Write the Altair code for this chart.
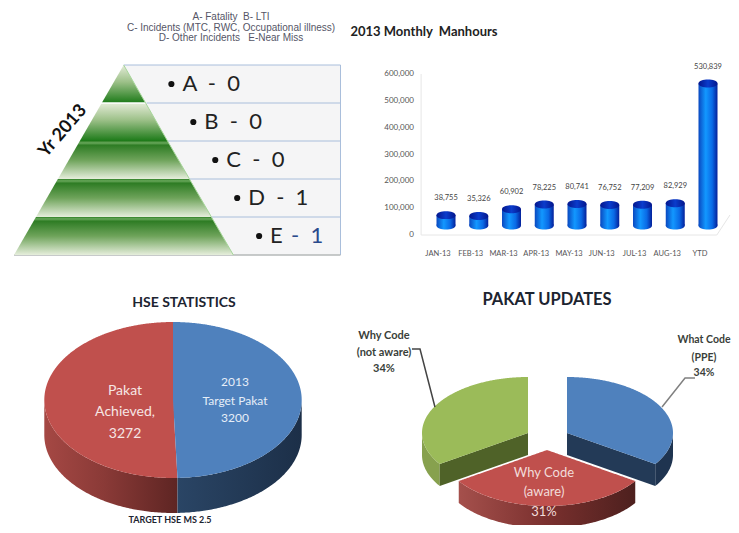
import altair as alt
import numpy as np
import pandas as pd

# ---------- data ----------
NB = "\u00a0"
legend_lines = [f"A- Fatality{NB}{NB}B- LTI", "C- Incidents (MTC, RWC, Occupational illness)", f"D- Other Incidents{NB}{NB}{NB}E-Near Miss"]
tier_letters = [f"A{NB}{NB}-{NB}{NB}0", f"B{NB}{NB}-{NB}{NB}0", f"C{NB}{NB}-{NB}{NB}0", f"D{NB}{NB}-{NB}{NB}1", "E"]
months = ["JAN-13", "FEB-13", "MAR-13", "APR-13", "MAY-13", "JUN-13", "JUL-13", "AUG-13", "YTD"]
manhours = [38755, 35326, 60902, 78225, 80741, 76752, 77209, 82929, 530839]
y_ticks = [0, 100000, 200000, 300000, 400000, 500000, 600000]
hse_values = [3200, 3272]
pakat_shares = [34, 31, 34]

OFF = 8  # page margin
FONT = "Lato"
layers = []


def R(a, b):
    return [a - OFF, b - OFF]


def label(txt, x, y, size, color="#333333", weight="normal", font=FONT, align="center", angle=None):
    kw = {}
    if angle is not None:
        kw["angle"] = angle
    layers.append(
        alt.Chart(pd.DataFrame({"t": [txt]}))
        .mark_text(fontSize=size, color=color, fontWeight=weight, font=font, align=align, baseline="middle", **kw)
        .encode(x=alt.value(x - OFF), y=alt.value(y - OFF), text="t:N")
    )


def grad(stops, vertical=False):
    st = [alt.GradientStop(offset=o, color=c) for o, c in stops]
    if vertical:
        return alt.LinearGradient(gradient="linear", stops=st, x1=0, x2=0, y1=0, y2=1)
    return alt.LinearGradient(gradient="linear", stops=st, x1=0, x2=1, y1=0, y2=0)


# ---------- pyramid ----------
PX = alt.Scale(domain=[-1, 1.977], range=R(14, 340.5), nice=False, zero=False)
PY = alt.Scale(domain=[0, 5], range=R(65, 255), nice=False, zero=False)
n_tiers = len(tier_letters)

for i in range(n_tiers):
    d = pd.DataFrame({"lvl": [i, i + 1], "xl": [i / 5, (i + 1) / 5], "xr": [1.977, 1.977]})
    layers.append(
        alt.Chart(d).mark_area(orient="horizontal", color="#f5f5f6").encode(
            x=alt.X("xl:Q", scale=PX, axis=None), x2="xr:Q", y=alt.Y("lvl:Q", scale=PY, axis=None)
        )
    )

rows = pd.DataFrame({"lvl": [0, 1, 2, 3, 4], "xl": [0, .2, .4, .6, .8], "xr": [1.977] * 5})
layers.append(alt.Chart(rows).mark_rule(color="#a9bedb", strokeWidth=1).encode(
    x=alt.X("xl:Q", scale=PX, axis=None), x2="xr:Q", y=alt.Y("lvl:Q", scale=PY, axis=None)))
layers.append(alt.Chart(pd.DataFrame({"x": [1.977], "a": [0], "b": [5]})).mark_rule(color="#a9bedb", strokeWidth=1).encode(
    x=alt.X("x:Q", scale=PX, axis=None), y=alt.Y("a:Q", scale=PY, axis=None), y2="b:Q"))
layers.append(alt.Chart(pd.DataFrame({"l": [5], "a": [-1], "b": [1.977]})).mark_rule(color="#b5b8b8", strokeWidth=1.5).encode(
    x=alt.X("a:Q", scale=PX, axis=None), x2="b:Q", y=alt.Y("l:Q", scale=PY, axis=None)))

light_top = [(0, "#e4ecd8"), (0.45, "#9cc088"), (1, "#1c7a18")]
dark_top = [(0, "#2f7f25"), (0.05, "#6aa85c"), (0.11, "#2e7c24"), (0.5, "#6ea35a"), (1, "#e6eedc")]
for i in range(n_tiers):
    d = pd.DataFrame({"lvl": [i, i + 1], "xl": [-i / 5, -(i + 1) / 5], "xr": [i / 5, (i + 1) / 5]})
    stops = light_top if i < 2 else dark_top
    layers.append(
        alt.Chart(d).mark_area(orient="horizontal", color=grad(stops, vertical=True)).encode(
            x=alt.X("xl:Q", scale=PX, axis=None), x2="xr:Q", y=alt.Y("lvl:Q", scale=PY, axis=None)
        )
    )
layers.append(alt.Chart(pd.DataFrame({"l": [1], "a": [-.21], "b": [.21]})).mark_rule(color="white", strokeWidth=1.5).encode(
    x=alt.X("a:Q", scale=PX, axis=None), x2="b:Q", y=alt.Y("l:Q", scale=PY, axis=None)))
layers.append(alt.Chart(pd.DataFrame({"x": [0], "y": [0], "x2": [1], "y2": [5]})).mark_rule(color="#a6d69a", strokeWidth=1).encode(
    x=alt.X("x:Q", scale=PX, axis=None), x2="x2:Q", y=alt.Y("y:Q", scale=PY, axis=None), y2="y2:Q"))

marks = pd.DataFrame({
    "t": tier_letters,
    "lvl": [i + .5 for i in range(n_tiers)],
    "x": [(i + .5) / 5 + 0.335 for i in range(n_tiers)],
})
layers.append(alt.Chart(marks).mark_point(filled=True, color="#111111", size=38, opacity=1, shape="circle").encode(
    x=alt.X("x:Q", scale=PX, axis=None), y=alt.Y("lvl:Q", scale=PY, axis=None)))
layers.append(alt.Chart(marks).mark_text(align="left", baseline="middle", dx=11, fontSize=22, font=FONT, color="#222222").encode(
    x=alt.X("x:Q", scale=PX, axis=None), y=alt.Y("lvl:Q", scale=PY, axis=None), text="t:N"))
layers.append(alt.Chart(marks.tail(1).assign(t=f"-{NB}{NB}1")).mark_text(align="left", baseline="middle", dx=32, fontSize=22, font=FONT, color="#2a4a8c").encode(
    x=alt.X("x:Q", scale=PX, axis=None), y=alt.Y("lvl:Q", scale=PY, axis=None), text="t:N"))

label("Yr 2013", 63, 131, 18, color="#111111", weight="bold", angle=311)
for t, y in zip(legend_lines, [17, 28, 38]):
    label(t, 231, y, 10, color="#555566", font="Liberation Sans")

# ---------- bar chart ----------
label(f"2013 Monthly{NB}{NB}Manhours", 424, 32, 13, color="#222222", weight="bold")
BX = alt.Scale(domain=[0, 8], range=R(446, 708), nice=False, zero=False)
BY = alt.Scale(domain=[0, 600000], range=R(225.5, 65), nice=False, zero=False)
AY = alt.Scale(domain=[0, 600000], range=R(235, 74), nice=False, zero=False)

floor = pd.DataFrame({"i": [-0.76, -0.76, 8.27, 8.67], "v": [600000, 0, 0, 74500], "o": [0, 1, 2, 3]})
layers.append(alt.Chart(floor).mark_line(color="#e6e6e6", strokeWidth=1).encode(
    x=alt.X("i:Q", scale=BX, axis=None), y=alt.Y("v:Q", scale=AY, axis=None), order="o:O"))

tick_df = pd.DataFrame({"v": y_ticks, "t": [f"{v:,}" for v in y_ticks]})
layers.append(alt.Chart(tick_df).mark_text(align="right", baseline="middle", fontSize=8, font=FONT, color="#555555").encode(
    x=alt.value(414 - OFF), y=alt.Y("v:Q", scale=AY, axis=None), text="t:N"))

bars = pd.DataFrame({"i": range(len(months)), "m": months, "v": manhours, "b": 0,
                     "t": [f"{v:,}" for v in manhours]})
bars["x0"] = bars["i"] - 0.29
bars["x1"] = bars["i"] + 0.29
body = [(0, "#0a48c0"), (0.38, "#1298ff"), (0.72, "#0a6ae6"), (1, "#04209a")]
ELLIPSE = "M-1,0C-1,-0.56,1,-0.56,1,0C1,0.56,-1,0.56,-1,0Z"
layers.append(alt.Chart(bars).mark_point(filled=True, shape=ELLIPSE, size=361, opacity=1, fill=grad(body), strokeWidth=0).encode(
    x=alt.X("i:Q", scale=BX, axis=None), y=alt.Y("b:Q", scale=BY, axis=None)))
layers.append(alt.Chart(bars).mark_bar(color=grad(body)).encode(
    x=alt.X("x0:Q", scale=BX, axis=None), x2="x1:Q", y=alt.Y("v:Q", scale=BY, axis=None), y2="b:Q"))
layers.append(alt.Chart(bars).mark_point(filled=True, shape=ELLIPSE, size=361, opacity=1, fill=grad([(0, "#04168c"), (0.5, "#0a3ccc"), (1, "#04168c")]), strokeWidth=0).encode(
    x=alt.X("i:Q", scale=BX, axis=None), y=alt.Y("v:Q", scale=BY, axis=None)))
layers.append(alt.Chart(bars).mark_text(baseline="middle", dy=-17, fontSize=7.5, font=FONT, color="#444444").encode(
    x=alt.X("i:Q", scale=BX, axis=None), y=alt.Y("v:Q", scale=BY, axis=None), text="t:N"))
layers.append(alt.Chart(bars).mark_text(baseline="middle", dx=-8, fontSize=7.5, font=FONT, color="#555555").encode(
    x=alt.X("i:Q", scale=BX, axis=None), y=alt.value(254 - OFF), text="m:N"))


# ---------- 3-D pies ----------
def polar(a):
    r = np.radians(a)
    return np.sin(r), np.cos(r)


def wedge(a0, a1, cx=0.0, cy=0.0, n=240):
    ang = np.linspace(a0, a1, n)
    sx, cy_arc = polar(ang)
    px = np.r_[cx, cx + sx]
    py = np.r_[cy, cy + cy_arc]
    xs = np.unique(np.round(px, 6))
    top, bot = [], []
    qx, qy = np.r_[px, px[0]], np.r_[py, py[0]]
    for x in xs:
        ys = []
        for j in range(len(px)):
            x0, x1, y0, y1 = qx[j], qx[j + 1], qy[j], qy[j + 1]
            if min(x0, x1) - 1e-6 <= x <= max(x0, x1) + 1e-6:
                if abs(x1 - x0) < 1e-9:
                    ys += [y0, y1]
                else:
                    ys.append(y0 + (x - x0) / (x1 - x0) * (y1 - y0))
        top.append(max(ys))
        bot.append(min(ys))
    return pd.DataFrame({"x": xs, "y": top, "y2": bot})


def rim(a0, a1, depth, cx=0.0, cy=0.0, n=120):
    ang = np.linspace(a0, a1, n)
    sx, c = polar(ang)
    d = pd.DataFrame({"x": cx + sx, "y": cy + c, "y2": cy + c - depth})
    return d.sort_values("x")


def cut(a, depth, cx=0.0, cy=0.0):
    sx, c = polar(a)
    d = pd.DataFrame({"x": [cx + sx, cx], "y": [cy + c, cy], "y2": [cy + c - depth, cy - depth]})
    return d.sort_values("x")


def face(d, fill, sx, sy):
    layers.append(alt.Chart(d).mark_area(color=fill, orient="vertical").encode(
        x=alt.X("x:Q", scale=sx, axis=None), y=alt.Y("y:Q", scale=sy, axis=None), y2="y2:Q"))


# HSE statistics
label("HSE STATISTICS", 184, 303, 14, color="#1c2430", weight="bold")
H_X = alt.Scale(domain=[-1, 1], range=R(173 - 128.7, 173 + 128.7), nice=False, zero=False)
H_Y = alt.Scale(domain=[-1, 1], range=R(400 + 78, 400 - 78), nice=False, zero=False)
h_split = 360 * hse_values[0] / sum(hse_values)
H_D = 35 / 78
face(rim(h_split, 270, H_D), grad([(0, "#a54844"), (0.45, "#8a3a37"), (1, "#5e2523")]), H_X, H_Y)
face(rim(90, h_split, H_D), grad([(0, "#2a4565"), (1, "#1c2f48")]), H_X, H_Y)
face(wedge(h_split, 360), "#c0504d", H_X, H_Y)
face(wedge(0, h_split), "#4f81bd", H_X, H_Y)

for t, y in zip(["Pakat", "Achieved,", "3272"], [391, 412, 434]):
    label(t, 125, y, 14, color="#f6e6e4")
for t, y in zip(["2013", "Target Pakat", "3200"], [382, 401, 418]):
    label(t, 235, y, 12, color="#e6eef8")
label("TARGET HSE MS 2.5", 170, 520, 9, color="#1c2430", weight="bold")

# Pakat updates
label("PAKAT UPDATES", 547, 300, 16.5, color="#1c2430", weight="bold")
U_X = alt.Scale(domain=[-1, 1], range=R(547 - 106, 547 + 106), nice=False, zero=False)
U_Y = alt.Scale(domain=[-1, 1], range=R(450 + 56, 450 - 56), nice=False, zero=False)
U_D = 22 / 56
tot = sum(pakat_shares)
a1 = 360 * pakat_shares[0] / tot
a2 = a1 + 360 * pakat_shares[1] / tot
GX, BLX, UPY = -19 / 106, 20 / 106, 17 / 56

# green slice
face(rim(a2, 270, U_D, GX, UPY), "#87a14e", U_X, U_Y)
face(cut(a2, U_D, GX, UPY), "#4f6228", U_X, U_Y)
face(wedge(a2, 360, GX, UPY), "#9bbb59", U_X, U_Y)
# blue slice
face(rim(90, a1, U_D, BLX, UPY), "#1f3450", U_X, U_Y)
face(cut(a1, U_D, BLX, UPY), "#233a57", U_X, U_Y)
face(wedge(0, a1, BLX, UPY), "#4f81bd", U_X, U_Y)
# red slice
face(rim(a1, a2, U_D), grad([(0, "#a5504c"), (0.5, "#7a302e"), (1, "#4d201e")]), U_X, U_Y)
face(wedge(a1, a2), "#c0504d", U_X, U_Y)

for pts, col in [
    ([(-1.274, 1.804), (-1.198, 1.804), (-1.057, .768)], "#444444"),
    ([(1.396, 1.286), (1.302, 1.286), (1.085, .768)], "#808080"),
]:
    d = pd.DataFrame(pts, columns=["x", "y"]).assign(o=range(3))
    layers.append(alt.Chart(d).mark_line(color=col, strokeWidth=1.5).encode(
        x=alt.X("x:Q", scale=U_X, axis=None), y=alt.Y("y:Q", scale=U_Y, axis=None), order="o:O"))

for t, y in zip(["Why Code", "(not aware)", f"{pakat_shares[2]}%"], [336, 353, 369]):
    label(t, 384, y, 11, color="#3a3f3a", weight="bold")
for t, y in zip(["What Code", "(PPE)", f"{pakat_shares[0]}%"], [340, 358, 373]):
    label(t, 704, y, 10.5, color="#3a3f3a", weight="bold")
for t, y in zip(["Why Code", "(aware)", f"{pakat_shares[1]}%"], [473, 492, 512]):
    label(t, 544, y, 13, color="#f2dcda")

chart = (
    alt.layer(*layers)
    .resolve_scale(x="independent", y="independent")
    .properties(width=723, height=517, padding=0, autosize=alt.AutoSizeParams(type="none"), background="white")
    .configure_view(stroke=None)
)
chart.save("out.html", embed_options={"renderer": "svg", "actions": False})
